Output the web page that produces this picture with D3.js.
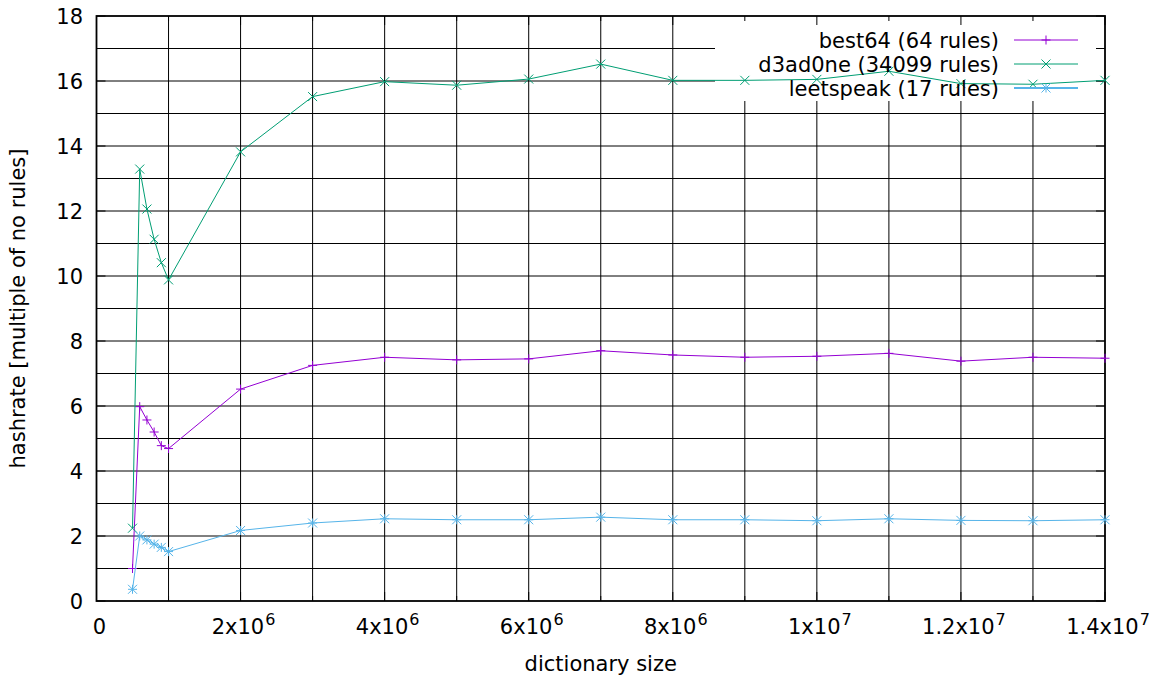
<!DOCTYPE html>
<html>
<head>
<meta charset="utf-8">
<script src="https://cdn.jsdelivr.net/npm/d3@7"></script>
<style>
	body { margin: 0; background: #fff; }
	text { font-family: "DejaVu Sans", sans-serif; }
</style>
</head>
<body>
<div id="chart"></div>
<script>
// Data
//---------
var dictSizes = [5e5, 6e5, 7e5, 8e5, 9e5, 1e6, 2e6, 3e6, 4e6, 5e6, 6e6, 7e6, 8e6, 9e6, 1e7, 1.1e7, 1.2e7, 1.3e7, 1.4e7];
var best64 = [1.0, 5.98, 5.57, 5.2, 4.78, 4.69, 6.52, 7.25, 7.5, 7.42, 7.45, 7.7, 7.57, 7.5, 7.53, 7.62, 7.38, 7.5, 7.47];
var d3ad0ne = [2.24, 13.29, 12.06, 11.13, 10.41, 9.88, 13.82, 15.52, 15.98, 15.87, 16.06, 16.52, 16.02, 16.02, 16.05, 16.3, 15.92, 15.9, 16.02];
var leetspeak = [0.36, 2.0, 1.88, 1.75, 1.65, 1.52, 2.17, 2.4, 2.53, 2.5, 2.5, 2.58, 2.5, 2.5, 2.47, 2.53, 2.48, 2.47, 2.5];

var seriesNames = ["best64 (64 rules)", "d3ad0ne (34099 rules)", "leetspeak (17 rules)"];
var seriesColors = ["#9400d3", "#009e73", "#56b4e9"];
var seriesPoints = ["plus", "cross", "star"];

var xTickValues = [0, 2e6, 4e6, 6e6, 8e6, 1e7, 1.2e7, 1.4e7];
var xTickLabels = [["0", ""], ["2x10", "6"], ["4x10", "6"], ["6x10", "6"], ["8x10", "6"], ["1x10", "7"], ["1.2x10", "7"], ["1.4x10", "7"]];
var yTickValues = [0, 2, 4, 6, 8, 10, 12, 14, 16, 18];

(function() {

// Setup
//---------
var width = 1157, height = 679;
var pLeft = 96.5, pRight = 1105, pTop = 16, pBottom = 601;

var svg = d3.select("#chart").append("svg")
	.attr("width", width)
	.attr("height", height);

var x = d3.scaleLinear().domain([0, 1.4e7]).range([pLeft, pRight]);
var y = d3.scaleLinear().domain([0, 18]).range([pBottom, pTop]);

var minorX = d3.range(0, 1.4e7 + 1, 1e6);
var minorY = d3.range(0, 19, 1);

// Grid
//---------
var grid = svg.append("g").attr("stroke", "#000").attr("stroke-width", 1);
grid.selectAll(".gx").data(minorX.slice(1, -1)).enter().append("line")
	.attr("x1", d => x(d)).attr("x2", d => x(d))
	.attr("y1", pTop).attr("y2", pBottom);
grid.selectAll(".gy").data(minorY.slice(1, -1)).enter().append("line")
	.attr("x1", pLeft).attr("x2", pRight)
	.attr("y1", d => y(d)).attr("y2", d => y(d));

// Opaque key box
//---------
var keyBox = { x0: 715, x1: 1096, y0: 16, y1: 101 };
svg.append("rect")
	.attr("x", keyBox.x0).attr("y", keyBox.y0)
	.attr("width", keyBox.x1 - keyBox.x0).attr("height", keyBox.y1 - keyBox.y0)
	.attr("fill", "#fff");

// Axes (ticks on all four sides, mirrored)
//---------
var ticks = svg.append("g").attr("stroke", "#000").attr("stroke-width", 1);
minorX.forEach(function(v) {
	var l = (v % 2e6) === 0 ? 9 : 5;
	ticks.append("line").attr("x1", x(v)).attr("x2", x(v)).attr("y1", pBottom).attr("y2", pBottom - l);
	ticks.append("line").attr("x1", x(v)).attr("x2", x(v)).attr("y1", pTop).attr("y2", pTop + l);
});
minorY.forEach(function(v) {
	var l = (v % 2) === 0 ? 9 : 5;
	ticks.append("line").attr("x1", pLeft).attr("x2", pLeft + l).attr("y1", y(v)).attr("y2", y(v));
	ticks.append("line").attr("x1", pRight).attr("x2", pRight - l).attr("y1", y(v)).attr("y2", y(v));
});

svg.append("rect")
	.attr("x", pLeft).attr("y", pTop)
	.attr("width", pRight - pLeft).attr("height", pBottom - pTop)
	.attr("fill", "none").attr("stroke", "#000").attr("stroke-width", 1.8);

// Tick labels
//---------
var fontSize = 21;
svg.append("g").selectAll("text").data(yTickValues).enter().append("text")
	.attr("x", 83).attr("y", d => y(d))
	.attr("dy", "0.36em")
	.attr("text-anchor", "end")
	.attr("font-size", fontSize)
	.text(d => d);

var xl = svg.append("g").selectAll("text").data(xTickValues).enter().append("text")
	.attr("x", d => x(d) + 3).attr("y", 634)
	.attr("text-anchor", "middle")
	.attr("font-size", fontSize);
xl.append("tspan").text((d, i) => xTickLabels[i][0]);
xl.append("tspan").attr("dy", -9).attr("dx", 1).attr("font-size", 16).text((d, i) => xTickLabels[i][1]);

// Axis titles
//---------
svg.append("text")
	.attr("x", (pLeft + pRight) / 2).attr("y", 671)
	.attr("text-anchor", "middle")
	.attr("font-size", fontSize)
	.text("dictionary size");

svg.append("text")
	.attr("transform", "translate(25," + ((pTop + pBottom) / 2) + ") rotate(-90)")
	.attr("text-anchor", "middle")
	.attr("font-size", fontSize)
	.text("hashrate [multiple of no rules]");

// Point symbols
//---------
function pointPath(type, cx, cy) {
	var r = 4.5;
	var p = "";
	if (type == "plus" || type == "star") {
		p += "M" + (cx - r) + "," + cy + "H" + (cx + r) + "M" + cx + "," + (cy - r) + "V" + (cy + r);
	}
	if (type == "cross" || type == "star") {
		p += "M" + (cx - r) + "," + (cy - r) + "L" + (cx + r) + "," + (cy + r) +
			"M" + (cx - r) + "," + (cy + r) + "L" + (cx + r) + "," + (cy - r);
	}
	return p;
}

// Series
//---------
var allSeries = [best64, d3ad0ne, leetspeak];
var line = d3.line().x(d => x(d[0])).y(d => y(d[1]));

allSeries.forEach(function(vals, s) {
	var pts = dictSizes.map((d, i) => [d, vals[i]]);
	var g = svg.append("g");
	g.append("path")
		.attr("d", line(pts))
		.attr("fill", "none")
		.attr("stroke", seriesColors[s])
		.attr("stroke-width", 1);
	g.selectAll(".pt").data(pts).enter().append("path")
		.attr("d", d => pointPath(seriesPoints[s], x(d[0]), y(d[1])))
		.attr("fill", "none")
		.attr("stroke", seriesColors[s])
		.attr("stroke-width", 1);

	//-- Key entry
	var ky = 40 + s * 24;
	svg.append("text")
		.attr("x", 999).attr("y", ky)
		.attr("dy", "0.36em")
		.attr("text-anchor", "end")
		.attr("font-size", fontSize)
		.text(seriesNames[s]);
	svg.append("line")
		.attr("x1", 1014).attr("x2", 1078)
		.attr("y1", ky).attr("y2", ky)
		.attr("stroke", seriesColors[s]).attr("stroke-width", s == 2 ? 2 : 1);
	svg.append("path")
		.attr("d", pointPath(seriesPoints[s], 1046, ky))
		.attr("fill", "none")
		.attr("stroke", seriesColors[s]);
});

})();
</script>
</body>
</html>
